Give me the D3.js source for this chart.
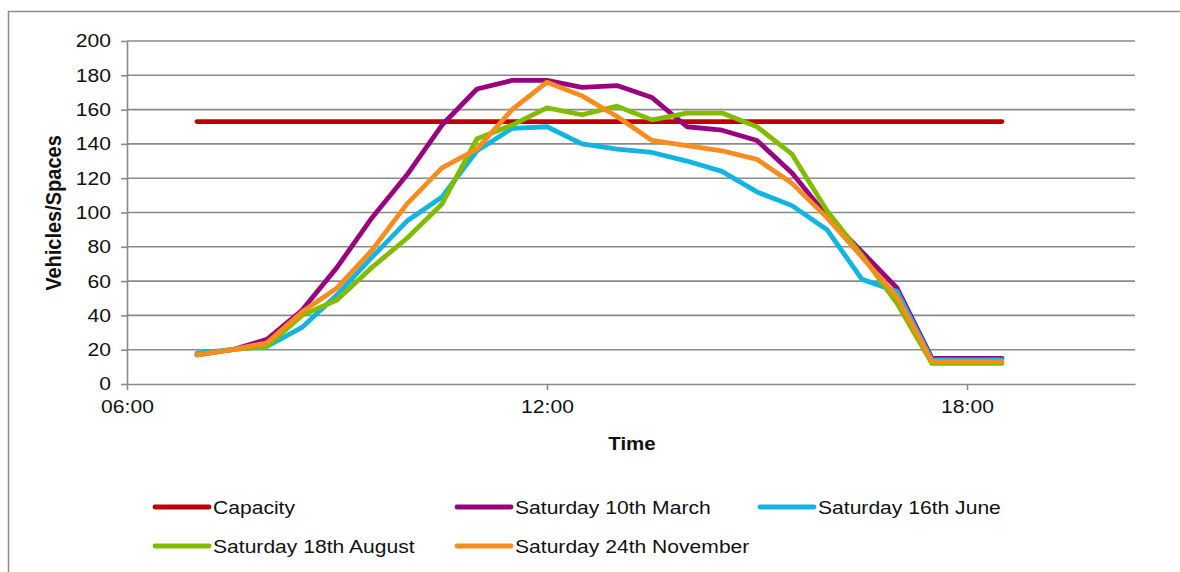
<!DOCTYPE html>
<html><head><meta charset="utf-8">
<script src="https://cdn.jsdelivr.net/npm/d3@7/dist/d3.min.js"></script>
<style>body{margin:0;background:#fff}svg{display:block;font-family:"Liberation Sans",Arial,sans-serif}</style>
</head><body><svg id="c" width="1180" height="572"></svg>
<script>
const times = ["07:00","07:30","08:00","08:30","09:00","09:30","10:00","10:30","11:00","11:30","12:00","12:30",
  "13:00","13:30","14:00","14:30","15:00","15:30","16:00","16:30","17:00","17:30","18:00","18:30"];
const capacity = [153,153,153,153,153,153,153,153,153,153,153,153,153,153,153,153,153,153,153,153,153,153,153,153];
const march    = [17,20,26,43,68,97,122,151,172,177,177,173,174,167,150,148,142,123,98,77,56,15,15,15];
const june     = [18,20,22,33,52,74,95,109,136,149,150,140,137,135,130,124,112,104,90,61,54,14,14,14];
const august   = [17,20,22,40,49,68,85,105,143,151,161,157,162,154,158,158,150,134,101,75,47,12,12,12];
const november = [17,20,24,42,56,78,105,126,137,160,176,168,156,142,139,136,131,117,97,74,51,13,13,13];
const seriesNames = ["Capacity","Saturday 10th March","Saturday 16th June","Saturday 18th August","Saturday 24th November"];
const seriesValues = [capacity, march, june, august, november];
const seriesColors = ["#C00000","#98047F","#12B4E2","#82BC00","#F78D1E"];
const yTicks = [0,20,40,60,80,100,120,140,160,180,200];
const xTicks = ["06:00","12:00","18:00"];
const xLabel = "Time", yLabel = "Vehicles/Spaces";

const toH = s => { const [h,m] = s.split(":").map(Number); return h + m/60; };
const svg = d3.select("#c");
const SX = 1.14;
const grid = "#8a8a8a";
const L = 127, R = 1135, T = 41, B = 384;
const x = d3.scaleLinear().domain([6, 20.4]).range([L, R]);
const y = d3.scaleLinear().domain([0, 200]).range([B, T]);

// outer frame (cropped)
svg.append("path").attr("d","M8.5,572 V11.5 H1180").attr("fill","none").attr("stroke","#8c8c8c").attr("stroke-width",1.5);

// gridlines
svg.append("g").selectAll("line").data(yTicks.filter(d=>d>0)).join("line")
  .attr("x1",L).attr("x2",R).attr("y1",d=>y(d)).attr("y2",d=>y(d))
  .attr("stroke",grid).attr("stroke-width",1.6);

// y axis
const ya = svg.append("g").attr("transform",`translate(${L},0)`)
  .call(d3.axisLeft(y).tickValues(yTicks).tickSize(6).tickSizeOuter(0).tickPadding(11));
ya.select(".domain").attr("stroke",grid).attr("stroke-width",1.6);
ya.selectAll(".tick line").attr("stroke",grid).attr("stroke-width",1.6);
ya.selectAll(".tick text").attr("font-size",18.5).attr("fill","#111").attr("font-family","Liberation Sans, Arial")
  .attr("transform",`scale(${SX},1)`).attr("x",-16/SX);

// x axis
const xa = svg.append("g").attr("transform",`translate(0,${B})`)
  .call(d3.axisBottom(x).tickValues(xTicks.map(toH)).tickSize(6).tickSizeOuter(0).tickFormat((d,i)=>xTicks[i]).tickPadding(12));
xa.select(".domain").attr("stroke",grid).attr("stroke-width",1.6);
xa.selectAll(".tick line").attr("stroke",grid).attr("stroke-width",1.6);
xa.selectAll(".tick text").attr("font-size",18.5).attr("fill","#111").attr("font-family","Liberation Sans, Arial")
  .attr("transform",`scale(${SX},1)`).attr("y",16);

// axis titles
svg.append("text").attr("transform",`translate(632,450) scale(${SX},1)`).attr("text-anchor","middle")
  .attr("font-size",18).attr("font-weight","bold").attr("fill","#111").text(xLabel);
svg.append("text").attr("transform",`translate(61,213) scale(${SX},1) rotate(-90)`).attr("text-anchor","middle")
  .attr("font-size",20).attr("font-weight","bold").attr("fill","#111").text(yLabel);

// lines
const line = d3.line().x((d,i)=>x(toH(times[i]))).y(d=>y(d));
svg.append("g").selectAll("path").data(seriesValues).join("path")
  .attr("d",line).attr("fill","none").attr("stroke",(d,i)=>seriesColors[i])
  .attr("stroke-width",4.8).attr("stroke-linejoin","round").attr("stroke-linecap","round");

// legend
const legPos = [[153,507],[455,507],[758,507],[153,546],[455,546]];
const lg = svg.append("g").selectAll("g").data(seriesNames).join("g")
  .attr("transform",(d,i)=>`translate(${legPos[i][0]},${legPos[i][1]})`);
lg.append("line").attr("x1",2).attr("x2",56).attr("y1",0).attr("y2",0)
  .attr("stroke",(d,i)=>seriesColors[i]).attr("stroke-width",4.8).attr("stroke-linecap","round");
lg.append("text").attr("transform",`translate(60,6.5) scale(${SX},1)`).attr("font-size",18.5).attr("fill","#111").text(d=>d);
</script></body></html>
